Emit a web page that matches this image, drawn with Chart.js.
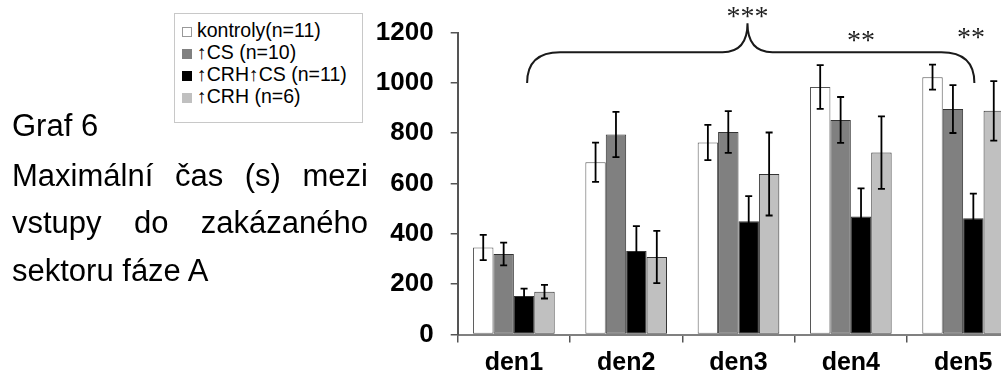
<!DOCTYPE html>
<html lang="cs">
  <head>
    <meta charset="UTF-8" />
    <title>Graf 6</title>
    <script src="https://cdn.jsdelivr.net/npm/chart.js@4.4.0/dist/chart.umd.min.js"></script>
    <style>
      html, body { margin: 0; padding: 0; background: #fff; width: 1001px; height: 378px; overflow: hidden; }
      body { position: relative; font-family: "Liberation Sans", Arial, sans-serif; color: #000; }
      #wrap { position: absolute; left: 0; top: 0; width: 1040px; height: 378px; }
      .line { position: absolute; left: 12px; width: 356px; font-size: 31px; line-height: 31px; white-space: nowrap; }
      .just { text-align: justify; text-align-last: justify; white-space: normal; }
      #legend { position: absolute; left: 174px; top: 13px; width: 189px; height: 110px; border: 1px solid #c8c8c8; background: #fff; font-size: 19.5px; padding-top: 5px; box-sizing: border-box; }
      #legend .row { height: 22px; line-height: 22px; padding-left: 7px; white-space: nowrap; }
      #legend .sw { display: inline-block; width: 10px; height: 10px; box-sizing: border-box; margin-right: 5px; vertical-align: 0px; }
    </style>
  </head>
  <body>
    <div id="wrap"><canvas id="chart"></canvas></div>
    <div id="legend"></div>
    <div class="line" style="top:110px">Graf 6</div>
    <div class="line just" style="top:160px">Maximální čas (s) mezi</div>
    <div class="line just" style="top:207px">vstupy do zakázaného</div>
    <div class="line" style="top:255px">sektoru fáze A</div>

    <script>
      const categories = ['den1', 'den2', 'den3', 'den4', 'den5'];
      const seriesNames = ['kontroly(n=11)', '↑CS (n=10)', '↑CRH↑CS (n=11)', '↑CRH (n=6)'];
      const seriesColors = ['#ffffff', '#808080', '#000000', '#c0c0c0'];

      const kontroly = [346, 685, 763, 984, 1023];
      const kontrolyErr = [50, 78, 70, 87, 50];
      const cs = [320, 795, 805, 853, 896];
      const csErr = [45, 90, 83, 91, 95];
      const crhCs = [153, 332, 450, 469, 462];
      const crhCsErr = [29, 99, 100, 112, 98];
      const crh = [170, 308, 638, 723, 889];
      const crhErr = [27, 104, 165, 144, 118];

      const yMin = 0, yMax = 1200, yStep = 200;

      // significance marks: [text, category position, value]
      const stars = [['***', 2.08, 1282], ['**', 3.09, 1188], ['**', 4.07, 1198]];
      // brace: category positions of left end, tip, right end; values of ends, bar level, tip
      const brace = { from: 0.118, tip: 2.08, to: 4.1, end: 1000, level: 1122, top: 1237 };

      const values = [kontroly, cs, crhCs, crh];
      const errors = [kontrolyErr, csErr, crhCsErr, crhErr];

      const datasets = seriesNames.map((name, i) => ({
        label: name,
        data: values[i],
        errors: errors[i],
        backgroundColor: seriesColors[i],
        borderColor: i == 0 ? '#555' : '#333',
        borderWidth: 1,
        borderSkipped: false,
      }));

      // legend box
      const legend = document.getElementById('legend');
      seriesNames.forEach((name, i) => {
        const row = document.createElement('div');
        row.className = 'row';
        const sw = document.createElement('span');
        sw.className = 'sw';
        sw.style.background = seriesColors[i];
        sw.style.border = '1px solid ' + (i == 0 ? '#999' : seriesColors[i]);
        row.appendChild(sw);
        row.appendChild(document.createTextNode(name));
        legend.appendChild(row);
      });

      const errorBars = {
        id: 'errorBars',
        afterDatasetsDraw(chart) {
          const { ctx } = chart;
          const y = chart.scales.y;
          ctx.save();
          ctx.strokeStyle = '#000';
          ctx.lineWidth = 1.8;
          chart.data.datasets.forEach((ds, di) => {
            chart.getDatasetMeta(di).data.forEach((bar, i) => {
              const v = ds.data[i], e = ds.errors[i];
              const t = y.getPixelForValue(v + e), b = y.getPixelForValue(v - e);
              ctx.beginPath();
              ctx.moveTo(bar.x, t); ctx.lineTo(bar.x, b);
              ctx.moveTo(bar.x - 3.5, t); ctx.lineTo(bar.x + 3.5, t);
              ctx.moveTo(bar.x - 3.5, b); ctx.lineTo(bar.x + 3.5, b);
              ctx.stroke();
            });
          });
          ctx.restore();
        }
      };

      const annotations = {
        id: 'annotations',
        afterDraw(chart) {
          const { ctx } = chart;
          const x = chart.scales.x, y = chart.scales.y;
          const step = x.getPixelForValue(1) - x.getPixelForValue(0);
          const px = f => x.getPixelForValue(0) + f * step;

          const L = px(brace.from), T = px(brace.tip), R = px(brace.to);
          const yEnd = y.getPixelForValue(brace.end);
          const yLev = y.getPixelForValue(brace.level);
          const yTop = y.getPixelForValue(brace.top);
          const r = 33, rt = 25;
          ctx.save();
          ctx.strokeStyle = '#1a1a1a';
          ctx.lineWidth = 2;
          ctx.beginPath();
          ctx.moveTo(L, yEnd);
          ctx.quadraticCurveTo(L, yLev, L + r, yLev);
          ctx.lineTo(T - rt, yLev);
          ctx.quadraticCurveTo(T, yLev, T, yTop);
          ctx.quadraticCurveTo(T, yLev, T + rt, yLev);
          ctx.lineTo(R - r, yLev);
          ctx.quadraticCurveTo(R, yLev, R, yEnd);
          ctx.stroke();

          ctx.fillStyle = '#222';
          ctx.font = '28px "Liberation Serif", serif';
          ctx.textAlign = 'center';
          ctx.textBaseline = 'middle';
          stars.forEach(([s, f, v]) => {
            ctx.fillText(s, px(f), y.getPixelForValue(v) + 6);
          });
          ctx.restore();
        }
      };

      new Chart(document.getElementById('chart'), {
        type: 'bar',
        data: { labels: categories, datasets },
        options: {
          responsive: true,
          maintainAspectRatio: false,
          animation: false,
          layout: { padding: { top: 29.3, right: 20.7, bottom: 0, left: 0 } },
          datasets: { bar: { categoryPercentage: 0.727, barPercentage: 1 } },
          plugins: { legend: { display: false }, tooltip: { enabled: false } },
          scales: {
            x: {
              offset: true,
              grid: { display: true, drawOnChartArea: false, drawTicks: true, tickLength: 8, offset: true, color: '#555', lineWidth: 1.5 },
              border: { display: true, color: '#808080', width: 2 },
              ticks: { color: '#000', font: { family: 'Liberation Sans', size: 25, weight: 'bold' }, padding: 6, maxRotation: 0 },
              afterFit: s => { s.height = 43.5; }
            },
            y: {
              min: yMin,
              max: yMax,
              ticks: {
                stepSize: yStep,
                color: '#000',
                font: { family: 'Liberation Sans', size: 26, weight: 'bold' },
                padding: 17,
                callback: v => String(v)
              },
              grid: { drawOnChartArea: false, tickLength: 7, color: '#555', lineWidth: 1.5 },
              border: { color: '#555', width: 2 },
              afterFit: s => { s.width = 457.7; }
            }
          }
        },
        plugins: [errorBars, annotations]
      });
    </script>
  </body>
</html>
